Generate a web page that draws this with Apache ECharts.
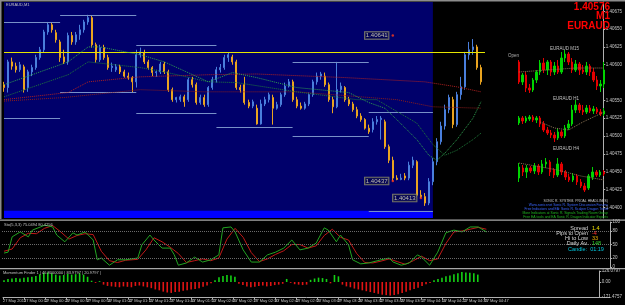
<!DOCTYPE html>
<html><head><meta charset="utf-8">
<script src="https://cdn.jsdelivr.net/npm/echarts@6/dist/echarts.min.js"></script>
<style>html,body{margin:0;padding:0;background:#000;}#c{width:625px;height:305px;}</style>
</head><body><div id="c"></div>
<script>
// ---------- main EURAUD M1 candles ----------
const opens = [
1.40572,1.40568,1.40604,1.40598,1.40593,1.40597,1.40568,1.40590,1.40596,1.40610,
1.40621,1.40646,1.40656,1.40645,1.40632,1.40611,1.40604,1.40641,1.40632,1.40642,
1.40649,1.40660,1.40666,1.40628,1.40607,1.40624,1.40610,1.40596,1.40593,1.40597,
1.40590,1.40584,1.40582,1.40576,1.40614,1.40617,1.40604,1.40596,1.40589,1.40590,
1.40601,1.40590,1.40565,1.40551,1.40551,1.40555,1.40551,1.40579,1.40572,1.40547,
1.40554,1.40544,1.40568,1.40579,1.40593,1.40596,1.40610,1.40611,1.40604,1.40568,
1.40572,1.40547,1.40542,1.40539,1.40517,1.40545,1.40551,1.40554,1.40539,1.40544,
1.40558,1.40570,1.40576,1.40551,1.40542,1.40539,1.40545,1.40558,1.40576,1.40584,
1.40584,1.40572,1.40551,1.40541,1.40565,1.40568,1.40551,1.40545,1.40537,1.40528,
1.40523,1.40511,1.40509,1.40520,1.40523,1.40520,1.40485,1.40466,1.40441,1.40439,
1.40444,1.40441,1.40459,1.40464,1.40417,1.40415,1.40406,1.40436,1.40464,1.40492,
1.40514,1.40537,1.40551,1.40516,1.40558,1.40569,1.40614,1.40621,1.40625,1.40596];
const closes = [
1.40568,1.40604,1.40598,1.40593,1.40600,1.40565,1.40590,1.40596,1.40610,1.40621,
1.40646,1.40656,1.40649,1.40635,1.40610,1.40604,1.40641,1.40632,1.40642,1.40649,
1.40660,1.40666,1.40628,1.40607,1.40624,1.40610,1.40596,1.40598,1.40597,1.40590,
1.40584,1.40582,1.40576,1.40614,1.40618,1.40604,1.40596,1.40589,1.40590,1.40601,
1.40590,1.40565,1.40551,1.40554,1.40555,1.40548,1.40579,1.40572,1.40547,1.40554,
1.40544,1.40568,1.40579,1.40593,1.40596,1.40610,1.40614,1.40604,1.40568,1.40565,
1.40547,1.40542,1.40548,1.40517,1.40545,1.40551,1.40558,1.40539,1.40544,1.40558,
1.40570,1.40576,1.40551,1.40542,1.40539,1.40545,1.40558,1.40576,1.40584,1.40587,
1.40572,1.40551,1.40541,1.40565,1.40570,1.40551,1.40545,1.40537,1.40528,1.40523,
1.40511,1.40506,1.40520,1.40523,1.40525,1.40485,1.40466,1.40441,1.40439,1.40441,
1.40441,1.40459,1.40466,1.40417,1.40415,1.40406,1.40436,1.40464,1.40492,1.40514,
1.40537,1.40554,1.40516,1.40558,1.40569,1.40614,1.40621,1.40625,1.40596,1.40576];
const highs = [
1.40576,1.40607,1.40610,1.40603,1.40604,1.40600,1.40593,1.40600,1.40614,1.40625,
1.40649,1.40660,1.40659,1.40649,1.40635,1.40621,1.40645,1.40646,1.40646,1.40656,
1.40663,1.40670,1.40669,1.40631,1.40628,1.40628,1.40614,1.40603,1.40601,1.40600,
1.40593,1.40589,1.40584,1.40621,1.40624,1.40621,1.40607,1.40598,1.40593,1.40604,
1.40604,1.40593,1.40568,1.40555,1.40558,1.40558,1.40582,1.40583,1.40575,1.40558,
1.40558,1.40570,1.40583,1.40597,1.40601,1.40614,1.40617,1.40614,1.40607,1.40572,
1.40583,1.40551,1.40551,1.40544,1.40551,1.40555,1.40561,1.40558,1.40548,1.40561,
1.40575,1.40580,1.40579,1.40555,1.40547,1.40548,1.40561,1.40579,1.40589,1.40590,
1.40589,1.40575,1.40555,1.40604,1.40575,1.40570,1.40555,1.40548,1.40541,1.40532,
1.40525,1.40516,1.40525,1.40528,1.40528,1.40523,1.40488,1.40471,1.40445,1.40447,
1.40448,1.40464,1.40471,1.40466,1.40424,1.40420,1.40441,1.40469,1.40497,1.40520,
1.40544,1.40558,1.40555,1.40562,1.40583,1.40618,1.40632,1.40636,1.40628,1.40600];
const lows = [
1.40562,1.40561,1.40593,1.40589,1.40590,1.40561,1.40562,1.40584,1.40593,1.40607,
1.40617,1.40642,1.40645,1.40631,1.40604,1.40601,1.40600,1.40628,1.40628,1.40635,
1.40645,1.40656,1.40624,1.40603,1.40604,1.40607,1.40593,1.40590,1.40590,1.40587,
1.40582,1.40579,1.40561,1.40568,1.40610,1.40601,1.40593,1.40584,1.40583,1.40587,
1.40587,1.40562,1.40548,1.40547,1.40548,1.40541,1.40548,1.40568,1.40544,1.40544,
1.40541,1.40541,1.40565,1.40575,1.40589,1.40593,1.40604,1.40600,1.40565,1.40561,
1.40544,1.40539,1.40539,1.40516,1.40516,1.40542,1.40547,1.40516,1.40537,1.40541,
1.40555,1.40568,1.40548,1.40539,1.40537,1.40537,1.40542,1.40555,1.40572,1.40579,
1.40569,1.40548,1.40532,1.40539,1.40561,1.40548,1.40542,1.40534,1.40525,1.40520,
1.40509,1.40503,1.40505,1.40516,1.40495,1.40482,1.40462,1.40437,1.40438,1.40438,
1.40438,1.40438,1.40455,1.40414,1.40413,1.40402,1.40403,1.40431,1.40459,1.40488,
1.40509,1.40532,1.40511,1.40513,1.40551,1.40565,1.40607,1.40614,1.40593,1.40572];
const chartShift = 30;           // empty bars on the right (chart shift)
const priceMin = 1.40385, priceMax = 1.40688;
const priceTicks = [1.40400,1.40425,1.40450,1.40475,1.40500,1.40525,1.40550,1.40600,1.40625,1.40650,1.40675];

// moving averages  [bar, price]
const maFast = [[0,1.40572],[7,1.40586],[16,1.40604],[21,1.40625],[24,1.40625],[34,1.40614],[40,1.40604],[51,1.40576],[57,1.40589],[63,1.40582],[73,1.40568],[86,1.40561],[91,1.40547],[95,1.40539],[98,1.40523],[103,1.40495],[106,1.40473],[108,1.40466],[110,1.40476],[113,1.40495],[117,1.40525],[119,1.40548]];
const maSlow = [[0,1.40555],[16,1.40586],[21,1.40604],[34,1.40596],[40,1.40590],[51,1.40576],[58,1.40575],[73,1.40562],[88,1.40551],[93,1.40551],[103,1.40518],[107,1.40488],[110,1.40473],[113,1.40480],[117,1.40495],[119,1.40504]];
const maRed = [[0,1.40551],[16,1.40561],[21,1.40576],[34,1.40583],[51,1.40586],[63,1.40587],[85,1.40582],[105,1.40576],[113,1.40569],[119,1.40562]];
const maRed2 = [[0,1.40549],[15,1.40554],[34,1.40565],[50,1.40562],[73,1.40562],[98,1.40551],[107,1.40541],[119,1.40539]];

// session shading and levels
const sessionEnd = 107;
const sessionBandTop = 1.40395;
const yellowLevel = 1.40618, yellowEnd = 120;
const roundLevel = 1.40500;
const segStarts = [0,14,33,53,72,91];
const segEnds   = [14,33,53,72,91,107];
const segHighs  = [1.40659,1.40669,1.40628,1.40617,1.40604,1.40534];
const segLows   = [1.40525,1.40561,1.40532,1.40513,1.40500,1.40395];
const priceMarks = [[97,1.40641],[97,1.40437],[104,1.40413]];

// stochastic (5,3,3)
const stochMain = [[0,31],[1,33],[2,67],[4,78],[6,67],[7,82],[9,89],[10,93],[12,89],[13,71],[15,56],[17,76],[18,71],[20,78],[22,60],[23,16],[24,20],[26,4],[28,16],[30,16],[33,20],[34,49],[36,71],[37,60],[39,42],[41,42],[42,27],[43,4],[45,9],[47,22],[49,11],[51,16],[53,27],[54,87],[56,89],[57,78],[59,38],[61,11],[63,11],[65,27],[67,33],[69,42],[71,60],[73,38],[75,42],[77,53],[79,87],[80,82],[82,56],[83,71],[85,49],[86,16],[88,7],[90,9],[93,16],[95,20],[96,11],[98,4],[100,9],[102,27],[103,22],[105,4],[107,33],[109,76],[111,82],[113,78],[115,89],[117,89],[119,78]];
const stochSignal = [[0,35],[2,40],[4,65],[6,75],[8,74],[10,86],[12,92],[14,78],[16,62],[18,70],[20,74],[22,72],[24,35],[26,14],[28,10],[30,15],[33,17],[35,38],[37,65],[39,56],[41,44],[43,30],[45,10],[47,14],[49,18],[51,14],[53,20],[55,62],[57,86],[59,66],[61,32],[63,12],[65,18],[67,28],[69,36],[71,50],[73,50],[75,42],[77,47],[79,70],[81,84],[83,66],[85,60],[87,30],[89,10],[91,9],[93,13],[95,18],[97,12],[99,6],[101,14],[103,24],[105,14],[107,18],[109,52],[111,78],[113,80],[115,84],[117,88],[119,84]];
const stochLevels = [80,50,20];
const stochTicks = [100,80,50,20,0];

// momentum histogram
const momentum = [
20,35,40,45,40,50,55,60,70,90,
105,110,100,85,75,80,95,85,90,100,
85,60,15,-10,10,-30,-45,-50,-55,-60,
-50,-55,-60,-45,-40,-50,-60,-70,-85,-95,
-110,-120,-125,-115,-110,-100,-95,-85,-80,-70,
-55,-40,-15,20,55,70,80,75,60,-20,
-35,-50,-60,-55,-45,-40,-50,-45,-35,-30,
-20,35,-10,-25,-30,-35,-30,25,40,50,
45,35,-15,80,65,-30,-50,-60,-75,-85,
-95,-105,-115,-125,-135,-145,-150,-155,-150,-140,
-125,-110,-95,-80,-65,-45,-25,-10,20,35,
50,65,75,90,100,115,110,105,100,85];
const momMax = 126.0797, momMin = -171.4757;

// time axis
const timeLabels = ['27 May 2015','27 May 00:12','27 May 00:25','27 May 00:37','27 May 00:50','27 May 01:02','27 May 01:15','27 May 01:27','27 May 01:40','27 May 01:52','27 May 02:05','27 May 02:17','27 May 02:30','27 May 02:42','27 May 02:55','27 May 03:07','27 May 03:20','27 May 03:32','27 May 03:45','27 May 03:57','27 May 04:10','27 May 04:22','27 May 04:35','27 May 04:47'];
const timeSlots = 30;

// mini charts (open, close, high, low)
const m15Open  = [1.40584,1.40564,1.40571,1.40558,1.40556,1.40566,1.40574,1.40583,1.40576,1.40584,1.40574,1.40580,1.40574,1.40588,1.40592,1.40584,1.40576,1.40582,1.40576,1.40574,1.40580,1.40574,1.40566,1.40560,1.40562];
const m15Close = [1.40564,1.40571,1.40558,1.40556,1.40566,1.40574,1.40583,1.40576,1.40584,1.40574,1.40580,1.40574,1.40588,1.40592,1.40584,1.40576,1.40582,1.40576,1.40574,1.40580,1.40574,1.40566,1.40560,1.40562,1.40576];
const m15High  = [1.40586,1.40573,1.40574,1.40562,1.40568,1.40576,1.40586,1.40588,1.40586,1.40586,1.40584,1.40586,1.40594,1.40596,1.40594,1.40588,1.40586,1.40584,1.40581,1.40584,1.40582,1.40578,1.40570,1.40566,1.40584];
const m15Low   = [1.40562,1.40561,1.40554,1.40553,1.40554,1.40563,1.40571,1.40573,1.40571,1.40570,1.40571,1.40572,1.40572,1.40584,1.40581,1.40573,1.40574,1.40571,1.40572,1.40571,1.40570,1.40564,1.40556,1.40554,1.40558];
const h1Open  = [1.40565,1.40570,1.40567,1.40569,1.40571,1.40568,1.40570,1.40564,1.40558,1.40555,1.40553,1.40550,1.40556,1.40552,1.40560,1.40564,1.40578,1.40583,1.40578,1.40576,1.40580,1.40577,1.40579,1.40576,1.40574];
const h1Close = [1.40570,1.40567,1.40570,1.40571,1.40568,1.40570,1.40564,1.40558,1.40555,1.40553,1.40550,1.40556,1.40552,1.40560,1.40564,1.40578,1.40583,1.40578,1.40576,1.40580,1.40577,1.40579,1.40576,1.40574,1.40577];
const h1High  = [1.40572,1.40572,1.40572,1.40573,1.40573,1.40572,1.40572,1.40567,1.40561,1.40558,1.40556,1.40560,1.40558,1.40563,1.40568,1.40583,1.40588,1.40585,1.40583,1.40583,1.40583,1.40582,1.40581,1.40579,1.40580];
const h1Low   = [1.40563,1.40564,1.40565,1.40567,1.40566,1.40565,1.40561,1.40556,1.40553,1.40550,1.40546,1.40548,1.40550,1.40550,1.40558,1.40562,1.40575,1.40575,1.40573,1.40574,1.40575,1.40574,1.40574,1.40572,1.40572];
const h4Open  = [1.40572,1.40582,1.40578,1.40582,1.40579,1.40584,1.40578,1.40586,1.40588,1.40580,1.40575,1.40586,1.40578,1.40573,1.40570,1.40574,1.40568,1.40564,1.40562,1.40573,1.40578,1.40575,1.40578];
const h4Close = [1.40583,1.40578,1.40582,1.40579,1.40584,1.40578,1.40586,1.40588,1.40578,1.40575,1.40586,1.40578,1.40573,1.40570,1.40574,1.40568,1.40564,1.40560,1.40574,1.40578,1.40575,1.40578,1.40576];
const h4High  = [1.40587,1.40585,1.40585,1.40584,1.40587,1.40586,1.40590,1.40592,1.40590,1.40582,1.40592,1.40588,1.40580,1.40576,1.40577,1.40576,1.40571,1.40567,1.40576,1.40583,1.40580,1.40580,1.40580];
const h4Low   = [1.40568,1.40574,1.40572,1.40577,1.40576,1.40575,1.40576,1.40582,1.40574,1.40572,1.40573,1.40575,1.40570,1.40568,1.40568,1.40565,1.40562,1.40558,1.40560,1.40570,1.40573,1.40573,1.40574];
const m15Ma = [[0,1.40574],[8,1.40576],[16,1.40578],[24,1.40578]];
const h1Ma  = [[6,1.40566],[10,1.40560],[14,1.40558],[18,1.40566],[24,1.40576]];
const h4Ma  = [[0,1.40587],[10,1.40580],[16,1.40574],[22,1.40570]];

// texts
const symbolName = 'EURAUD', timeframe = 'M1';
const stochTitle = 'Sto(5,3,3) 75.0494 80.4256';
const momTitle = 'Momentum Finder 1 | 46.8000000 | 83.9797 | 20.9797 |';
const infoLabels = ['Spread','Pips to Open','Hi to Low','Daily Av.'];
const infoValues = ['1.4','-4','33','148'];
const infoColors = ['#f0e000','#ff3030','#f0b000','#30d030'];
const candleTimer = 'Candle:  01:19';
const noteLines = ['SONIC R. SYSTEM. PROAL HEADLINES)','Www.sonicr.net Sonic R. System Discussion Forums','Free Indicators and EA: Sonic R. Scalper Dragon Trend','More Indicators at Sonic R. Signals Trading Room Group','Free EA tools and EA Sonic R. Dragon Indicator Experts'];
const noteColors = ['#c8c8c8','#3a66ff','#3a66ff','#20b820','#20b820'];

// ---------- build ----------
const FONT = 'Liberation Sans, Arial, sans-serif';
const bid = closes[closes.length - 1];
const cats = Array.from({length: closes.length + chartShift}, (_, i) => String(i));
const candleData = closes.map((c, i) => [opens[i], c, lows[i], highs[i]]);
const mini = (o, c, l, h) => c.map((v, i) => [o[i], v, l[i], h[i]]);
const idxCats = n => Array.from({length: n}, (_, i) => String(i));
const timeAxis = timeLabels.concat(Array(timeSlots - timeLabels.length).fill(''));

const segLines = [];
segStarts.forEach((s, k) => {
  segLines.push([{coord: [s, segHighs[k]]}, {coord: [segEnds[k], segHighs[k]]}]);
  segLines.push([{coord: [s, segLows[k]]}, {coord: [segEnds[k], segLows[k]]}]);
});

const hiddenCat = (grid, data) => ({type: 'category', gridIndex: grid, data: data, boundaryGap: true, show: false});
const axisCol = '#b0b0b0';

const option = {
  animation: false,
  backgroundColor: '#000000',
  textStyle: {fontFamily: FONT},
  grid: [
    {left: 2, top: 2, width: 608, height: 216},
    {left: 2, top: 222, width: 608, height: 45},
    {left: 2, top: 271, width: 608, height: 26},
    {left: 2, top: 296, width: 608, height: 1.5},
    {left: 517, top: 40, width: 89, height: 60},
    {left: 517, top: 95, width: 89, height: 55},
    {left: 517, top: 150, width: 89, height: 50}
  ],
  xAxis: [
    hiddenCat(0, cats), hiddenCat(1, cats), hiddenCat(2, cats),
    {type: 'category', gridIndex: 3, data: timeAxis, boundaryGap: false,
      axisLine: {show: true, lineStyle: {color: axisCol, width: 1}},
      axisTick: {show: true, length: 2, interval: (i) => timeAxis[i] !== '', lineStyle: {color: axisCol}},
      axisLabel: {interval: 0, fontSize: 4, color: '#c8c8c8', align: 'left', margin: 1.5, fontFamily: FONT}},
    hiddenCat(4, idxCats(m15Close.length)), hiddenCat(5, idxCats(h1Close.length)), hiddenCat(6, idxCats(h4Close.length))
  ],
  yAxis: [
    {type: 'value', gridIndex: 0, position: 'right', min: priceMin, max: priceMax, splitLine: {show: false},
      axisLine: {show: true, lineStyle: {color: axisCol}},
      axisTick: {show: true, length: 2, customValues: priceTicks, lineStyle: {color: axisCol}},
      axisLabel: {customValues: priceTicks, fontSize: 4.5, color: '#c8c8c8', margin: 2.5, formatter: v => v.toFixed(5)}},
    {type: 'value', gridIndex: 1, position: 'right', min: 0, max: 100, splitLine: {show: false},
      axisLine: {show: true, lineStyle: {color: axisCol}},
      axisTick: {show: true, length: 2, customValues: stochTicks, lineStyle: {color: axisCol}},
      axisLabel: {customValues: stochTicks, fontSize: 4.5, color: '#c8c8c8', margin: 2.5}},
    {type: 'value', gridIndex: 2, position: 'right', min: momMin, max: momMax, splitLine: {show: false},
      axisLine: {show: true, lineStyle: {color: axisCol}},
      axisTick: {show: true, length: 2, customValues: [momMax, 0, momMin], lineStyle: {color: axisCol}},
      axisLabel: {customValues: [momMax, 0, momMin], fontSize: 4.5, color: '#c8c8c8', margin: 2.5,
        formatter: v => v === 0 ? '0.00' : v.toFixed(4)}},
    {type: 'value', gridIndex: 3, show: false},
    {type: 'value', gridIndex: 4, show: false, min: 1.40546, max: 1.40606},
    {type: 'value', gridIndex: 5, show: false, min: 1.40538, max: 1.40593},
    {type: 'value', gridIndex: 6, show: false, min: 1.40550, max: 1.40600}
  ],
  series: [
    {type: 'candlestick', xAxisIndex: 0, yAxisIndex: 0, data: candleData, barWidth: 1.5,
      itemStyle: {color: '#4a7fdc', color0: '#eaa420', borderColor: '#4a7fdc', borderColor0: '#eaa420', borderWidth: 1},
      markArea: {silent: true, data: [
        [{xAxis: 0, yAxis: priceMin, itemStyle: {color: '#00006b', opacity: 1}}, {xAxis: sessionEnd, yAxis: priceMax}],
        [{xAxis: 0, yAxis: priceMin, itemStyle: {color: '#0000ff', opacity: 1}}, {xAxis: sessionEnd, yAxis: sessionBandTop}]
      ]},
      markLine: {silent: true, symbol: 'none', label: {show: false}, z: 3,
        lineStyle: {color: '#7890c8', width: 1, type: 'solid'},
        data: [
          {yAxis: roundLevel, lineStyle: {color: '#2e6e70', width: 1, type: 'dotted'}},
          ...segLines,
          [{coord: [0, yellowLevel], lineStyle: {color: '#e6e600', width: 1, type: 'solid'}}, {coord: [yellowEnd, yellowLevel]}],
          {yAxis: bid, lineStyle: {color: '#c0c0c0', width: 1, type: 'solid'},
            label: {show: true, position: 'end', distance: 1, formatter: () => bid.toFixed(5), color: '#000', backgroundColor: '#c8c8c8',
              fontSize: 4.5, padding: [1, 2, 0, 1], fontFamily: FONT}}
        ]}
    },
    {type: 'line', xAxisIndex: 0, yAxisIndex: 0, data: maRed2, symbol: 'none', lineStyle: {color: '#8a1c1c', width: 1, type: 'dotted'}},
    {type: 'line', xAxisIndex: 0, yAxisIndex: 0, data: maRed, symbol: 'none', lineStyle: {color: '#b02020', width: 1, type: 'dotted'}},
    {type: 'line', xAxisIndex: 0, yAxisIndex: 0, data: maSlow, symbol: 'none', lineStyle: {color: '#1f7a3a', width: 1, type: 'dotted'}},
    {type: 'line', xAxisIndex: 0, yAxisIndex: 0, data: maFast, symbol: 'none', lineStyle: {color: '#2fa050', width: 1, type: 'dotted'}},
    {type: 'scatter', xAxisIndex: 0, yAxisIndex: 0, data: priceMarks, symbol: 'circle', symbolSize: 2.5, z: 10,
      itemStyle: {color: '#ff3a1a'},
      label: {show: true, position: 'left', distance: 3, formatter: p => p.value[1].toFixed(5), color: '#ecebc0',
        fontSize: 6, fontFamily: FONT, backgroundColor: 'rgba(0,0,60,0.6)', borderColor: '#9a9a6e', borderWidth: 0.8, padding: [1, 1, 0, 1]}},
    {type: 'line', xAxisIndex: 1, yAxisIndex: 1, data: stochSignal, symbol: 'none', lineStyle: {color: '#c01818', width: 1},
      markLine: {silent: true, symbol: 'none', label: {show: false},
        lineStyle: {color: '#6a6a6a', width: 1, type: 'dotted'}, data: stochLevels.map(v => ({yAxis: v}))}},
    {type: 'line', xAxisIndex: 1, yAxisIndex: 1, data: stochMain, symbol: 'none', lineStyle: {color: '#22a422', width: 1}},
    {type: 'bar', xAxisIndex: 2, yAxisIndex: 2, barWidth: 1.6,
      data: momentum.map(v => ({value: v, itemStyle: {color: v >= 0 ? '#14d014' : '#e01414'}}))},
    {type: 'candlestick', xAxisIndex: 4, yAxisIndex: 4, data: mini(m15Open, m15Close, m15Low, m15High), barWidth: 2,
      itemStyle: {color: '#00d400', color0: '#e40000', borderColor: '#00d400', borderColor0: '#e40000'}},
    {type: 'line', xAxisIndex: 4, yAxisIndex: 4, data: m15Ma, symbol: 'none', lineStyle: {color: '#8b7355', width: 1, type: 'dotted'}},
    {type: 'candlestick', xAxisIndex: 5, yAxisIndex: 5, data: mini(h1Open, h1Close, h1Low, h1High), barWidth: 2,
      itemStyle: {color: '#00d400', color0: '#e40000', borderColor: '#00d400', borderColor0: '#e40000'}},
    {type: 'line', xAxisIndex: 5, yAxisIndex: 5, data: h1Ma, symbol: 'none', lineStyle: {color: '#8b7355', width: 1, type: 'dotted'}},
    {type: 'candlestick', xAxisIndex: 6, yAxisIndex: 6, data: mini(h4Open, h4Close, h4Low, h4High), barWidth: 2,
      itemStyle: {color: '#00d400', color0: '#e40000', borderColor: '#00d400', borderColor0: '#e40000'}},
    {type: 'line', xAxisIndex: 6, yAxisIndex: 6, data: h4Ma, symbol: 'none', lineStyle: {color: '#8b7355', width: 1, type: 'dotted'}}
  ],
  graphic: [
    {type: 'rect', z: 50, shape: {x: 0, y: 0, width: 625, height: 1.5}, style: {fill: '#8c8c8c'}},
    {type: 'rect', z: 50, shape: {x: 0, y: 0, width: 1.5, height: 219}, style: {fill: '#8c8c8c'}},
    {type: 'rect', z: 50, shape: {x: 0, y: 219.6, width: 625, height: 1.2}, style: {fill: '#a8a8a8'}},
    {type: 'rect', z: 50, shape: {x: 0, y: 268, width: 625, height: 1.2}, style: {fill: '#a8a8a8'}},
    {type: 'text', z: 60, x: 6, y: 2.5, style: {text: symbolName + ',' + timeframe, fill: '#c0c0c0', fontSize: 4, fontFamily: FONT}},
    {type: 'text', z: 60, x: 610, y: 2.3, style: {text: bid.toFixed(5), fill: '#ff0000', fontSize: 10, fontWeight: 'bold', fontFamily: FONT, align: 'right'}},
    {type: 'text', z: 60, x: 610, y: 11.6, style: {text: timeframe, fill: '#ff0000', fontSize: 10, fontWeight: 'bold', fontFamily: FONT, align: 'right'}},
    {type: 'text', z: 60, x: 610, y: 20.8, style: {text: symbolName, fill: '#ff0000', fontSize: 10, fontWeight: 'bold', fontFamily: FONT, align: 'right'}},
    {type: 'text', z: 60, x: 508, y: 53, style: {text: 'Open', fill: '#b0b0b0', fontSize: 4.5, fontFamily: FONT}},
    {type: 'text', z: 60, x: 550, y: 46, style: {text: symbolName + ' M15', fill: '#c0c0c0', fontSize: 4.5, fontFamily: FONT}},
    {type: 'text', z: 60, x: 553, y: 96, style: {text: symbolName + ' H1', fill: '#c0c0c0', fontSize: 4.5, fontFamily: FONT}},
    {type: 'text', z: 60, x: 553, y: 146, style: {text: symbolName + ' H4', fill: '#c0c0c0', fontSize: 4.5, fontFamily: FONT}},
    ...noteLines.map((t, k) => ({type: 'text', z: 60, x: 608, y: 200 + k * 3.8,
      style: {text: t, fill: noteColors[k], fontSize: 3.4, fontFamily: FONT, align: 'right'}})),
    {type: 'text', z: 60, x: 4, y: 222.5, style: {text: stochTitle, fill: '#c0c0c0', fontSize: 4, fontFamily: FONT}},
    {type: 'text', z: 60, x: 3, y: 270.5, style: {text: momTitle, fill: '#c0c0c0', fontSize: 4, fontFamily: FONT}},
    ...infoLabels.map((t, k) => ({type: 'text', z: 60, x: 588, y: 228.3 + k * 5, style: {text: t, fill: '#d8d8d8', fontSize: 5.5, fontFamily: FONT, align: 'right', verticalAlign: 'middle'}})),
    ...infoValues.map((t, k) => ({type: 'text', z: 60, x: 592, y: 228.3 + k * 5, style: {text: t, fill: infoColors[k], fontSize: 5.5, fontFamily: FONT, align: 'left', verticalAlign: 'middle'}})),
    {type: 'text', z: 60, x: 586, y: 249.3, style: {text: candleTimer, fill: '#00c8e0', fontSize: 5.5, fontFamily: FONT, align: 'center', verticalAlign: 'middle'}}
  ]
};
const chart = echarts.init(document.getElementById('c'));
chart.setOption(option);
</script>
</body></html>
